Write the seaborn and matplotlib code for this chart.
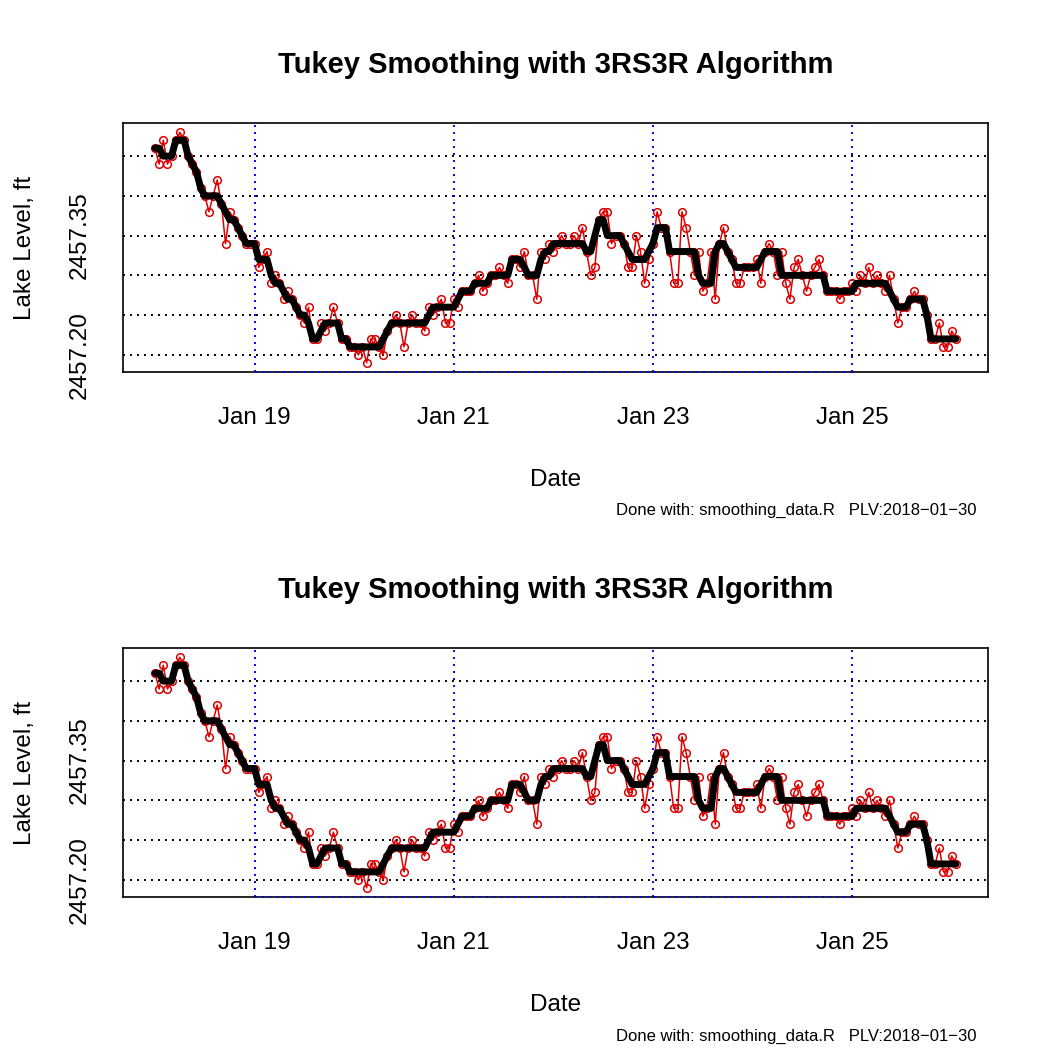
import numpy as np
import pandas as pd
import seaborn as sns
from matplotlib import pyplot as plt

# lake level readings, hundredths of a foot above 2457 ft, hourly from Jan 18 00:00
lvl_jan18 = [46, 44, 47, 44, 45, 47, 48, 47, 45, 44, 43, 41, 40, 38, 40, 42, 39, 34, 38, 37, 36, 35, 34, 34]
lvl_jan19 = [34, 31, 32, 33, 29, 30, 29, 27, 28, 27, 26, 25, 24, 26, 22, 22, 24, 23, 24, 26, 24, 22, 22, 21]
lvl_jan20 = [21, 20, 21, 19, 22, 22, 21, 20, 23, 24, 25, 24, 21, 24, 25, 24, 24, 23, 26, 25, 26, 27, 24, 24]
lvl_jan21 = [27, 26, 28, 28, 28, 29, 30, 28, 29, 30, 30, 31, 30, 29, 32, 32, 31, 33, 30, 30, 27, 33, 32, 34]
lvl_jan22 = [33, 34, 35, 34, 34, 35, 34, 36, 33, 30, 31, 37, 38, 38, 34, 35, 35, 34, 31, 31, 35, 33, 29, 32]
lvl_jan23 = [34, 38, 36, 36, 33, 29, 29, 38, 36, 33, 30, 33, 28, 29, 33, 27, 34, 36, 33, 32, 29, 29, 31, 31]
lvl_jan24 = [31, 32, 29, 33, 34, 33, 30, 33, 29, 27, 31, 32, 30, 28, 30, 31, 32, 30, 28, 28, 28, 27, 28, 28]
lvl_jan25 = [29, 28, 30, 29, 31, 29, 30, 29, 28, 30, 27, 24, 26, 26, 27, 28, 27, 27, 25, 22, 22, 24, 21, 21]
lvl_jan26 = [23, 22]

base_ft = 2457.0
date_ticks = ['2018-01-19', '2018-01-21', '2018-01-23', '2018-01-25']
date_labels = ['Jan 19', 'Jan 21', 'Jan 23', 'Jan 25']
level_ticks = [2457.20, 2457.25, 2457.30, 2457.35, 2457.40, 2457.45]
level_labels = ['2457.20', '', '', '2457.35', '', '']

title = 'Tukey Smoothing with 3RS3R Algorithm'
footer = 'Done with: smoothing_data.R   PLV:2018\u221201\u221230'


# --- Tukey 3RS3R (same steps as R's smooth(kind="3RS3R")) ---
def med3(a, b, c):
    return sorted([a, b, c])[1]

def imed3(u, v, w):
    if (u <= v <= w) or (u >= v >= w):
        return 0
    if (v <= u <= w) or (v >= u >= w):
        return -1
    return 1

def sm_3(x):
    y = list(x)
    for i in range(1, len(x) - 1):
        y[i] = med3(x[i - 1], x[i], x[i + 1])
    return y

def sm_3R(x):
    y = sm_3(x)
    while True:
        z = sm_3(y)
        if z == y:
            break
        y = z
    y[0] = med3(3 * y[1] - 2 * y[2], x[0], y[1])
    y[-1] = med3(y[-2], x[-1], 3 * y[-2] - 2 * y[-3])
    return y

def sptest(x, i):
    if x[i] != x[i + 1]:
        return False
    if (x[i - 1] <= x[i] and x[i + 1] <= x[i + 2]) or (x[i - 1] >= x[i] and x[i + 1] >= x[i + 2]):
        return False
    return True

def sm_split3(x):
    y = list(x)
    chg = False
    for i in range(2, len(x) - 3):
        if sptest(x, i):
            j = imed3(x[i], x[i - 1], 3 * x[i - 1] - 2 * x[i - 2])
            if j > -1:
                y[i] = x[i - 1] if j == 0 else 3 * x[i - 1] - 2 * x[i - 2]
                chg = y[i] != x[i]
            j = imed3(x[i + 1], x[i + 2], 3 * x[i + 2] - 2 * x[i + 3])
            if j > -1:
                y[i + 1] = x[i + 2] if j == 0 else 3 * x[i + 2] - 2 * x[i + 3]
                chg = y[i + 1] != x[i + 1]
    return y, chg

def smooth_3RS3R(x):
    y = sm_3R(x)
    z, chg = sm_split3(y)
    if chg:
        y = sm_3R(z)
    return y


raw = lvl_jan18 + lvl_jan19 + lvl_jan20 + lvl_jan21 + lvl_jan22 + lvl_jan23 + lvl_jan24 + lvl_jan25 + lvl_jan26
smo = smooth_3RS3R(raw)

df = pd.DataFrame({
    'Date': pd.date_range('2018-01-18 00:00', periods=len(raw), freq='h'),
    'level': base_ft + np.array(raw) / 100.0,
    'smooth': base_ft + np.array(smo) / 100.0,
})

sns.set_style('white')
plt.rcParams['font.family'] = ['Liberation Sans', 'DejaVu Sans']
plt.rcParams['text.color'] = 'black'
plt.rcParams['axes.labelcolor'] = 'black'
plt.rcParams['xtick.color'] = 'black'
plt.rcParams['ytick.color'] = 'black'

fig = plt.figure(figsize=(10.5, 10.5), dpi=100)
ax_top = fig.add_axes([0.1171, 0.6457, 0.8238, 0.2371])
ax_bot = fig.add_axes([0.1171, 0.1457, 0.8238, 0.2371])

# R style axis extension (4%)
t0, t1 = df['Date'].min(), df['Date'].max()
tpad = (t1 - t0) * 0.04
ymin, ymax = df['level'].min(), df['level'].max()
ypad = (ymax - ymin) * 0.04

for ax, foot_y in [(ax_top, 1 - 510 / 1050), (ax_bot, 1 - 1036 / 1050)]:
    for lv in level_ticks:
        ax.axhline(lv, color='black', lw=1.4, ls=(0, (1, 2.6)), zorder=1)
    for d in date_ticks:
        ax.axvline(pd.Timestamp(d), color='#0000FF', lw=1.4, ls=(0, (1, 2.6)), zorder=1)
    ax.plot([pd.Timestamp(date_ticks[0]), pd.Timestamp(date_ticks[-1])], [ymin - ypad] * 2,
            color='#0000FF', lw=1.4, ls=(0, (1, 2.6)), zorder=5, clip_on=False)

    sns.lineplot(data=df, x='Date', y='level', ax=ax, color='#DD0000', lw=1.1,
                 marker='o', markersize=5.5, markerfacecolor='none', markeredgecolor='#DD0000',
                 markeredgewidth=1.1, estimator=None, sort=False, zorder=3)
    sns.lineplot(data=df, x='Date', y='smooth', ax=ax, color='black', lw=5,
                 estimator=None, sort=False, zorder=4,
                 solid_capstyle='round', solid_joinstyle='round')

    ax.set_xlim(t0 - tpad, t1 + tpad)
    ax.set_ylim(ymin - ypad, ymax + ypad)
    ax.set_xticks([pd.Timestamp(d) for d in date_ticks])
    ax.set_xticklabels(date_labels, fontsize=17.5)
    ax.set_yticks(level_ticks)
    ax.set_yticklabels(level_labels, fontsize=17.5, rotation=90, va='center')
    ax.tick_params(axis='both', direction='out', length=10, width=1.2, color='black')
    ax.tick_params(axis='y', pad=13)
    ax.tick_params(axis='x', pad=15)
    for sp in ax.spines.values():
        sp.set_color('black')
        sp.set_linewidth(1.2)

    ax.set_title(title, fontsize=21, fontweight='bold', pad=36)
    ax.set_xlabel('Date', fontsize=17.5, labelpad=29)
    ax.set_ylabel('Lake Level, ft', fontsize=17.5, labelpad=24)
    fig.text(977 / 1050, foot_y, footer, fontsize=12, ha='right', va='center')

fig.savefig('out.png', dpi=100)
